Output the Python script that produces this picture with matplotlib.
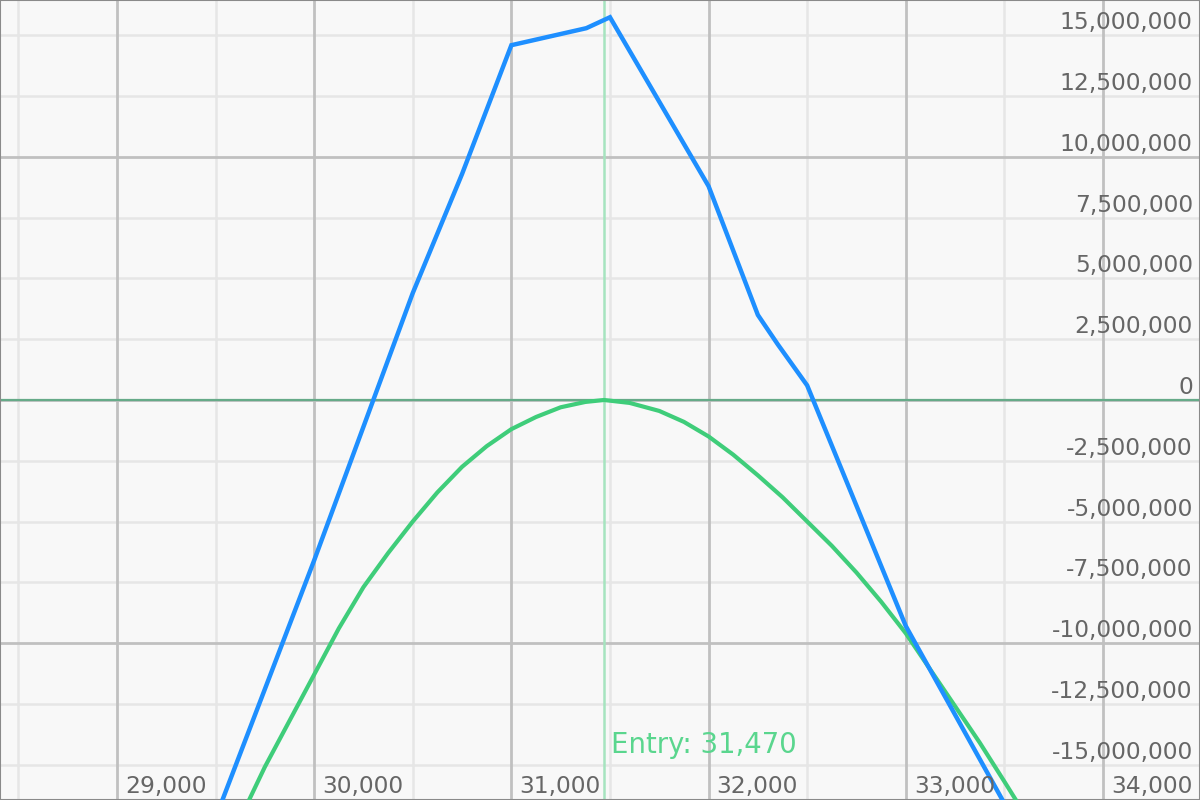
import numpy as np
import matplotlib
matplotlib.use("Agg")
import matplotlib.pyplot as plt
import matplotlib.transforms as mtrans

# Prices (x) and P&L values (y)
blue_x = [29500, 30000, 30500, 30750, 31000, 31380, 31500, 32000, 32250, 32350, 32500, 33000, 33500]
blue_y = [-17.2e6, -6.6e6, 4.4e6, 9.3e6, 14.6e6, 15.3e6, 15.75e6, 8.8e6, 3.5e6, 2.3e6, 0.6e6, -9.3e6, -16.6e6]

green_x = [29650, 29750, 29875, 30000, 30125, 30250, 30375, 30500, 30625, 30750, 30875,
           31000, 31125, 31250, 31375, 31470, 31600, 31750, 31875, 32000, 32125, 32250,
           32375, 32500, 32625, 32750, 32875, 33000, 33125, 33250, 33375, 33500, 33600]
green_y = [-16.8e6, -15.1e6, -13.2e6, -11.3e6, -9.4e6, -7.7e6, -6.3e6, -5.0e6, -3.8e6, -2.75e6, -1.9e6,
           -1.2e6, -0.7e6, -0.3e6, -0.08e6, 0.0, -0.12e6, -0.45e6, -0.9e6, -1.5e6, -2.25e6, -3.1e6,
           -4.0e6, -5.0e6, -6.0e6, -7.1e6, -8.3e6, -9.6e6, -11.1e6, -12.6e6, -14.1e6, -15.7e6, -17.0e6]

entry_price = 31470
x_ticks = [29000, 30000, 31000, 32000, 33000, 34000]
y_ticks = [15e6, 12.5e6, 10e6, 7.5e6, 5e6, 2.5e6, 0, -2.5e6, -5e6, -7.5e6, -10e6, -12.5e6, -15e6]

fig = plt.figure(figsize=(12, 8), dpi=100)
ax = fig.add_axes([0, 0, 1, 1])
ax.set_facecolor('#f8f8f8')
ax.set_xlim(28407, 34492)
ax.set_ylim(-16.46e6, 16.46e6)

# grid: minor every 500 / 2.5M, major every 1000 / 10M
for x in np.arange(28500, 34501, 500):
    major = x % 1000 == 0
    ax.axvline(x, color='#c0c0c0' if major else '#e6e6e6', lw=2 if major else 1.8, zorder=1 if major else 0.5)
for y in np.arange(-15e6, 15.1e6, 2.5e6):
    major = y % 10e6 == 0
    ax.axhline(y, color='#c0c0c0' if major else '#e6e6e6', lw=2 if major else 1.8, zorder=1 if major else 0.5)

ax.axhline(0, color='#66aa88', lw=1.6, zorder=2)
ax.axvline(entry_price, color='#a6e4bf', lw=1.8, zorder=2)

ax.plot(green_x, green_y, color='#3fcd7a', lw=3, zorder=3, solid_joinstyle='round')
ax.plot(blue_x, blue_y, color='#1e8fff', lw=3.2, zorder=4, solid_joinstyle='miter')

ax.set_xticks([])
ax.set_yticks([])
for s in ax.spines.values():
    s.set_color('#8a8a8a')
    s.set_linewidth(1.5)

font = dict(family='DejaVu Sans', color='#666666')

# y labels: right side, sitting just above their gridline
ytr = mtrans.offset_copy(ax.get_yaxis_transform(), fig=fig, x=0, y=6, units='dots')
for y in y_ticks:
    ax.text(0.994, y, f"{y:,.0f}", transform=ytr, ha='right', va='baseline', fontsize=16.8, zorder=5, **font)

# x labels: bottom, just right of their gridline
xtr = mtrans.offset_copy(ax.get_xaxis_transform(), fig=fig, x=8, y=7, units='dots')
for x in x_ticks:
    ax.text(x, 0, f"{x:,}", transform=xtr, ha='left', va='baseline', fontsize=16.8, zorder=5, **font)

etr = mtrans.offset_copy(ax.get_xaxis_transform(), fig=fig, x=7, y=47, units='dots')
ax.text(entry_price, 0, f"Entry: {entry_price:,}", transform=etr, ha='left', va='baseline',
        fontsize=19.8, color='#5ad68e', family='DejaVu Sans', zorder=5)

fig.savefig('out.png', dpi=100)
